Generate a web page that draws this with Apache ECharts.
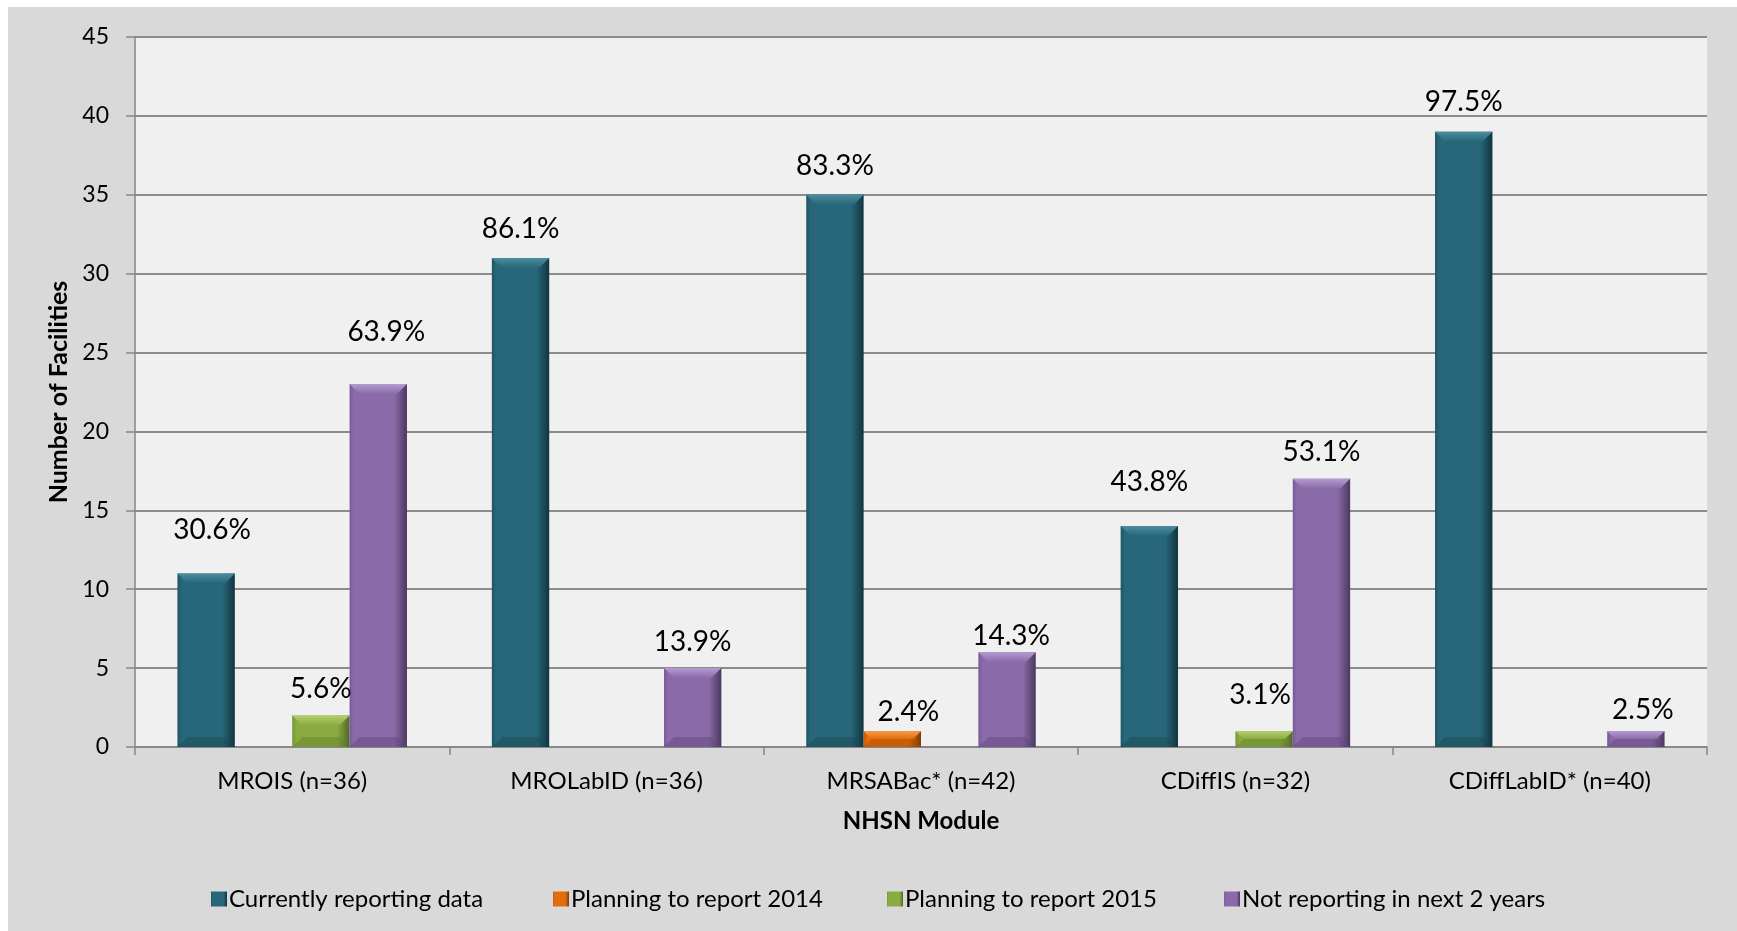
<!DOCTYPE html>
<html>
<head>
<meta charset="utf-8">
<script src="https://cdn.jsdelivr.net/npm/echarts@6/dist/echarts.min.js"></script>
<style>
html, body { margin: 0; padding: 0; background: #fff; }
#chart { width: 1737px; height: 931px; }
</style>
</head>
<body>
<div id="chart"></div>
<script>
// data
const modules = ['MROIS (n=36)', 'MROLabID (n=36)', 'MRSABac* (n=42)', 'CDiffIS (n=32)', 'CDiffLabID* (n=40)'];
const seriesNames = ['Currently reporting data', 'Planning to report 2014', 'Planning to report 2015', 'Not reporting in next 2 years'];

const currentlyReporting = [11, 31, 35, 14, 39];
const planning2014 = [null, null, 1, null, null];
const planning2015 = [2, null, null, 1, null];
const notReporting = [23, 5, 6, 17, 1];

const currentlyPct = ['30.6%', '86.1%', '83.3%', '43.8%', '97.5%'];
const planning2014Pct = ['', '', '2.4%', '', ''];
const planning2015Pct = ['5.6%', '', '', '3.1%', ''];
const notReportingPct = ['63.9%', '13.9%', '14.3%', '53.1%', '2.5%'];

const yMin = 0, yMax = 45, yStep = 5;

// label nudges (the source chart had hand-placed labels)
const labelLift = [
    [29, 15, 15, 30, 16],
    [0, 0, 5, 0, 0],
    [12, 0, 0, 22, 0],
    [38, 12, 2, 13, 7]
];
const labelDx = [
    [6, 0, 0, 0, 0],
    [0, 0, 16, 0, 0],
    [0, 0, 0, -4, 0],
    [8, 0, 4, 0, 7]
];
const legendLeft = [206, 548, 882, 1219];

const FONT = 'Lato';
const GAP = 0.27;   // barCategoryGap as a fraction
const BEVEL = 10;

const palette = [
    { base: '#276779', edge: '#1d5464', shade: '#12343e', top: '#4a8d9f', bottom: '#1a4652' },
    { base: '#e46c0a', edge: '#c45a06', shade: '#7d3c05', top: '#f59a4c', bottom: '#9a4a08' },
    { base: '#8aab3f', edge: '#76953a', shade: '#50682a', top: '#b2cf6e', bottom: '#5e7a2c' },
    { base: '#8a6aa8', edge: '#77599a', shade: '#4a3860', top: '#b39bd0', bottom: '#5a4478' }
];

function sideShade(p) {
    return new echarts.graphic.LinearGradient(0, 0, 1, 0, [
        { offset: 0, color: p.edge },
        { offset: 0.07, color: p.base },
        { offset: 0.78, color: p.base },
        { offset: 1, color: p.shade }
    ]);
}

const values = [currentlyReporting, planning2014, planning2015, notReporting];
const pcts = [currentlyPct, planning2014Pct, planning2015Pct, notReportingPct];

const barSeries = seriesNames.map((name, s) => ({
    name: name,
    type: 'bar',
    barGap: '0%',
    barCategoryGap: (GAP * 100) + '%',
    color: palette[s].base,
    itemStyle: { color: sideShade(palette[s]) },
    data: values[s].map((v, i) => ({
        value: v,
        label: {
            show: v !== null,
            position: 'top',
            distance: labelLift[s][i],
            offset: [labelDx[s][i], 0],
            formatter: pcts[s][i],
            fontFamily: FONT,
            fontSize: 28,
            color: '#000'
        }
    }))
}));

// top/bottom bevel faces laid over each bar
const bevelSeries = seriesNames.map((name, s) => ({
    type: 'custom',
    z: 5,
    silent: true,
    data: values[s].map((v, i) => [i, v]).filter(d => d[1] !== null),
    renderItem: function (params, api) {
        const cat = api.value(0);
        const top = api.coord([cat, api.value(1)]);
        const base = api.coord([cat, 0]);
        const band = api.size([1, 0])[0];
        const w = band * (1 - GAP) / seriesNames.length;
        const x0 = top[0] - band * (1 - GAP) / 2 + s * w;
        const x1 = x0 + w;
        const h = base[1] - top[1];
        const b = Math.min(BEVEL, h / 2);
        const p = palette[s];
        return {
            type: 'group',
            children: [{
                type: 'polygon',
                shape: { points: [[x0, top[1]], [x1, top[1]], [x1 - b, top[1] + b], [x0 + b, top[1] + b]] },
                style: {
                    fill: new echarts.graphic.LinearGradient(0, 0, 0, 1, [
                        { offset: 0, color: p.top },
                        { offset: 1, color: p.base }
                    ])
                }
            }, {
                type: 'polygon',
                shape: { points: [[x0, base[1]], [x1, base[1]], [x1 - b, base[1] - b], [x0 + b, base[1] - b]] },
                style: { fill: p.bottom, opacity: 0.4 }
            }]
        };
    }
}));

const legends = seriesNames.map((name, s) => ({
    left: legendLeft[s],
    top: 882,
    itemWidth: 16,
    itemHeight: 15,
    icon: 'rect',
    textStyle: { fontFamily: FONT, fontSize: 24, color: '#000', padding: [0, 0, 0, -3] },
    data: [name]
}));

const chart = echarts.init(document.getElementById('chart'));
chart.setOption({
    backgroundColor: '#ffffff',
    animation: false,
    textStyle: { fontFamily: FONT },
    graphic: [{
        type: 'rect',
        z: -10,
        shape: { x: 8, y: 7, width: 1729, height: 924 },
        style: { fill: '#d9d9d9' }
    }],
    grid: {
        left: 135, right: 30, top: 37, bottom: 184,
        show: true,
        backgroundColor: '#f0f0f0',
        borderWidth: 0
    },
    legend: legends,
    xAxis: {
        type: 'category',
        data: modules,
        name: 'NHSN Module',
        nameLocation: 'middle',
        nameGap: 62,
        nameTextStyle: { fontFamily: FONT, fontSize: 24, fontWeight: 'bold', color: '#000' },
        axisLine: { lineStyle: { color: '#868686', width: 1.5 } },
        axisTick: { show: true, length: 8, lineStyle: { color: '#868686', width: 1.5 } },
        axisLabel: { fontFamily: FONT, fontSize: 24, color: '#000', margin: 22 }
    },
    yAxis: {
        type: 'value',
        min: yMin, max: yMax, interval: yStep,
        name: 'Number of Facilities',
        nameLocation: 'middle',
        nameGap: 63,
        nameRotate: 90,
        nameTextStyle: { fontFamily: FONT, fontSize: 25, fontWeight: 'bold', color: '#000' },
        axisLine: { show: true, lineStyle: { color: '#868686', width: 1.5 } },
        axisTick: { show: true, length: 9, lineStyle: { color: '#868686', width: 1.5 } },
        axisLabel: { fontFamily: FONT, fontSize: 23, color: '#000', margin: 26 },
        splitLine: { lineStyle: { color: '#8c8c8c', width: 2 } }
    },
    series: barSeries.concat(bevelSeries)
});
</script>
</body>
</html>
